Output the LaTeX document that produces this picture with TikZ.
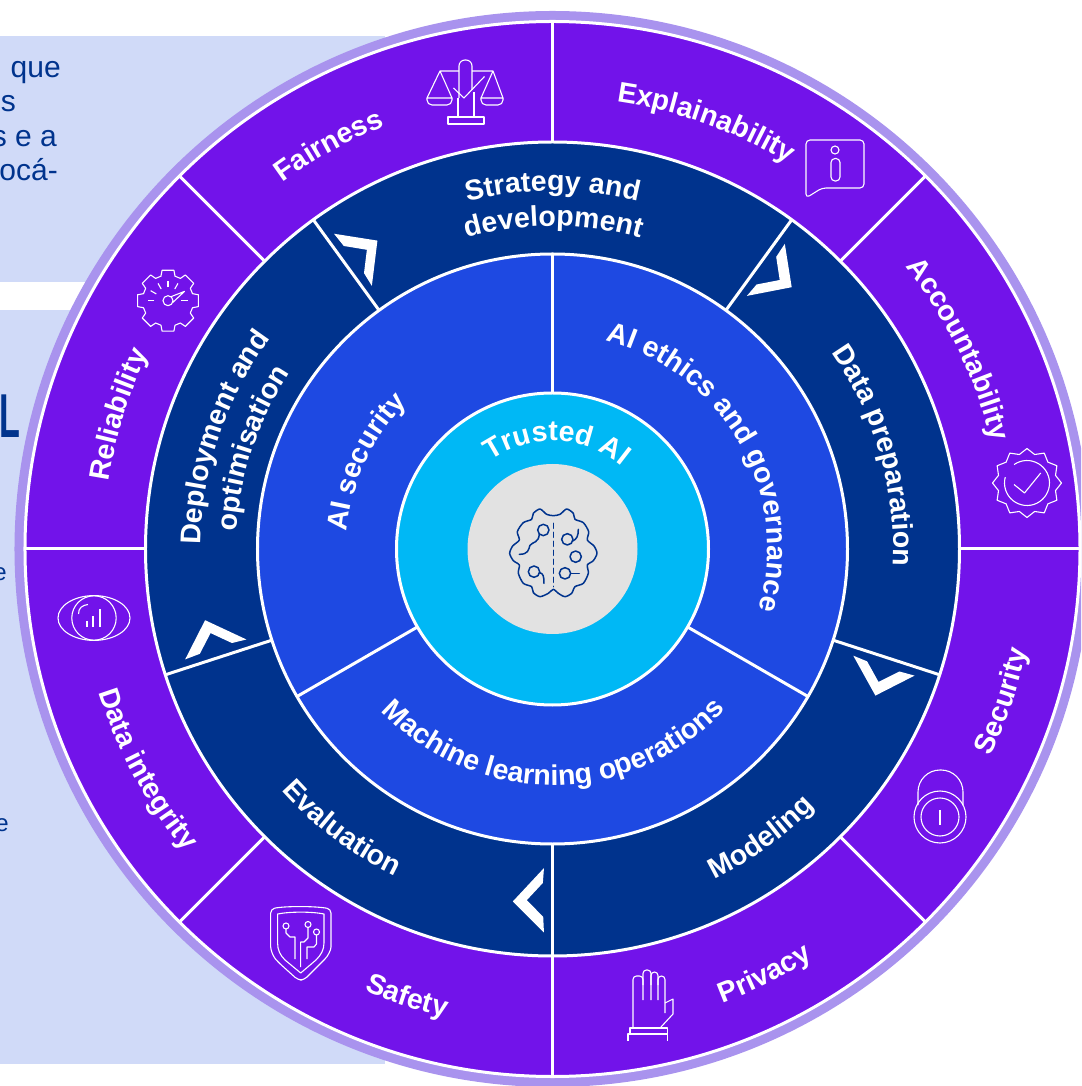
\documentclass[tikz,border=0pt]{standalone}
\usepackage{fontspec}
\setmainfont{Liberation Sans}
\usetikzlibrary{decorations.text}
\definecolor{panelBlue}{HTML}{D0DAF8}
\definecolor{ringLilac}{HTML}{A993EE}
\definecolor{ringPurple}{HTML}{7213EA}
\definecolor{ringNavy}{HTML}{00338D}
\definecolor{ringBlue}{HTML}{1E49E2}
\definecolor{ringCyan}{HTML}{00B8F5}
\definecolor{coreGrey}{HTML}{E2E2E2}
\newcommand{\labelfont}{\fontsize{28.5}{28.5}\selectfont\bfseries\color{white}}
% label on a circle: angle, radius, half span, text
\newcommand{\frownlabel}[4]{\path[decorate,decoration={text along path,text align=center,text={|\labelfont|#4}}] (#1+#3:#2) arc[start angle=#1+#3,end angle=#1-#3,radius=#2];}
\newcommand{\smilelabel}[4]{\path[decorate,decoration={text along path,text align=center,text={|\labelfont|#4}}] (#1-#3:#2) arc[start angle=#1-#3,end angle=#1+#3,radius=#2];}
\tikzset{
	pix/.style={shift={(-552.5,549)},y=-1pt},
	disc/.style={draw=white,line width=3pt},
	divider/.style={white,line width=3pt},
	iconline/.style={white,line width=1.1pt,line join=round},
	brainline/.style={ringNavy,line width=1.5pt,line join=round,line cap=round},
	paneltext/.style={text=ringNavy,font=\fontsize{30}{30}\selectfont,anchor=base east,inner sep=0pt}
}
\begin{document}
\begin{tikzpicture}[x=1pt,y=1pt]
	\useasboundingbox (-552.5,-537) rectangle (528.5,549);
	\clip (-552.5,-537) rectangle (528.5,549);
	
	%Panels behind the wheel
	\begin{scope}[pix]
		\fill[panelBlue] (0,36) rectangle (385,282);
		\fill[panelBlue] (0,310) rectangle (385,1064);
		\node[paneltext] (lineQue) at (61,78) {que};
		\node[paneltext] (lineS) at (16,112) {s};
		\node[paneltext] (lineEa) at (57,147) {s e a};
		\node[paneltext] (lineOca) at (58,181) {ocá-};
		\node[text=ringNavy,font=\fontsize{62}{62}\selectfont\bfseries,anchor=base west,inner sep=0pt,xscale=.55,transform shape] (bigL) at (-1,438) {L};
		\node[paneltext,font=\fontsize{24}{24}\selectfont] (lineE) at (7,581) {e};
		\node[paneltext,font=\fontsize{24}{24}\selectfont] (lineF) at (9,831) {e};
	\end{scope}
	
	%Rings
	\fill[ringLilac] (0,0) circle (538);
	\draw[disc,fill=ringPurple] (0,0) circle (527.5);
	\foreach \a in {0,45,...,315}
		\draw[divider] (\a:407) -- (\a:527.5);
	\draw[disc,fill=ringNavy] (0,0) circle (407);
	\foreach \a in {54,126,198,270,342}
		\draw[divider] (\a:295) -- (\a:407);
	\draw[disc,fill=ringBlue] (0,0) circle (295);
	\foreach \a in {90,210,330}
		\draw[divider] (\a:156) -- (\a:295);
	\draw[disc,fill=ringCyan] (0,0) circle (156);
	\fill[coreGrey] (0,0) circle (85);
	
	%Chevrons
	\foreach \a in {0,72,144,216,288}
		\fill[white,rotate=\a] (232.3,305.2) -- (239.2,261.8) -- (194.4,253.1) -- (204.1,264.5) -- (227.2,269) -- (223.7,292.1) -- cycle;
	
	%Outer ring labels
	\frownlabel{119}{455}{30}{Fairness}
	\frownlabel{70.2}{452}{30}{Explainability}
	\frownlabel{26.2}{452}{30}{Accountability}
	\frownlabel{162.8}{449}{30}{Reliability}
	\smilelabel{-18.7}{485}{25}{Security}
	\smilelabel{-63.5}{485}{25}{Privacy}
	\smilelabel{-108}{480}{25}{Safety}
	\smilelabel{-151.5}{476}{25}{Data integrity}
	
	%Middle ring labels
	\frownlabel{90}{358}{35}{Strategy and}
	\frownlabel{89.8}{323}{35}{development}
	\frownlabel{161.3}{352}{35}{Deployment and}
	\frownlabel{161.5}{316}{35}{optimisation}
	\frownlabel{16.2}{341}{35}{Data preparation}
	\smilelabel{-54.2}{368}{30}{Modeling}
	\smilelabel{-127}{363}{30}{Evaluation}
	
	%Inner ring labels
	\frownlabel{155}{206}{45}{AI security}
	\frownlabel{29.7}{215}{70}{AI ethics and governance}
	\smilelabel{-89.7}{236}{70}{Machine learning operations}
	\frownlabel{87.6}{108}{70}{Trusted AI}
	
	%Icons
	\begin{scope}[pix]
		%Scales
		\begin{scope}[iconline]
			\draw[rounded corners=6pt] (459,98) -- (459,60) -- (472,60) -- (472,90);
			\draw (459,71) -- (440,71) -- (427,98) -- (452,98) -- (440,71);
			\draw (472,71) -- (493,71) -- (481,98) -- (503,98) -- (493,71);
			\draw[rounded corners=5pt] (427,98) -- (427,105) -- (452,105) -- (452,98);
			\draw[rounded corners=5pt] (481,98) -- (481,105) -- (503,105) -- (503,98);
			\draw (453.5,88) -- (464,98) -- (484.5,76.5);
			\draw (458,98) -- (458,117) (474,92) -- (474,117);
			\draw (448,117) rectangle (484,124);
		\end{scope}
		
		%Speech bubble
		\begin{scope}[iconline]
			\draw[rounded corners=4pt] (806,198) -- (806,140) -- (864,140) -- (864,188) -- (822,188) -- cycle;
			\draw (835,150) circle (4);
			\draw[rounded corners=4pt] (831,158.5) rectangle (840,181);
		\end{scope}
		
		%Seal
		\begin{scope}[iconline,shift={(1027,483)}]
			\draw (0:34.5) \foreach \i in {1,...,23} { -- ({\i*15}:{ifthenelse(mod(\i,2)==0,34.5,29.5)}) } -- cycle;
			\draw plot[smooth,domain=235:555,samples=40] ({22.5*cos(\x)},{22.5*sin(\x)});
			\draw (-13,1.5) -- (-2.5,10) -- (13.7,-10);
		\end{scope}
		
		%Gear
		\begin{scope}[iconline,shift={(168,300.7)}]
			\draw (-16:25.5) \foreach \t in {0,45,...,315} { -- ({\t-16}:25.5) -- ({\t-11}:31) -- ({\t+11}:31) -- ({\t+16}:25.5) } -- cycle;
			\foreach \a in {180,210,240,270,300,360}
				\draw (\a:13.5) -- (\a:20);
			\draw (0,0) circle (5);
			\draw (3,-4) -- (16.5,-9.3) -- (4.5,2);
		\end{scope}
		
		%Eye and chart
		\begin{scope}[iconline]
			\draw (94,618) ellipse (36 and 22.4);
			\draw (94,618) circle (22.2);
			\draw (87,621) -- (87,627) (93,616) -- (93,627) (100,609) -- (100,627);
			\draw (78.6,614) .. controls (78,608) and (83,605) .. (88,604.5);
		\end{scope}
		
		%Shield
		\begin{scope}[iconline]
			\draw[rounded corners=4pt] (270.7,909) .. controls (285,906) and (315,906) .. (331,909) -- (331,943) .. controls (331,950) and (328,956) .. (322,962) -- (304,980) -- (298,980) -- (278,962) .. controls (273,956) and (270.7,950) .. (270.7,943) -- cycle;
			\draw (277.6,914) .. controls (290,911.5) and (312,911.5) .. (324,914) -- (324,943) .. controls (324,950) and (321,955) .. (316,960) -- (300.7,973) -- (285,960) .. controls (280,955) and (277.6,950) .. (277.6,943) -- cycle;
			\draw (286,926) circle (3) (286,929) -- (286,933) -- (290,937) -- (295,937) -- (295,959);
			\draw (308,924.5) circle (3) (308,927.5) -- (308,938) -- (304,942) -- (300.7,942) -- (300.7,967);
			\draw (316.5,932) circle (3) (316.5,935) -- (316.5,944) -- (314,947) -- (307,947) -- (307,959);
		\end{scope}
		
		%Hand
		\begin{scope}[iconline]
			\draw[rounded corners=3.5pt] (633,1027) -- (633,976) -- (643,976) -- (643,1000);
			\draw[rounded corners=3.5pt] (643,985) -- (643,970) -- (651,970) -- (651,1000);
			\draw[rounded corners=3.5pt] (651,985) -- (651,972) -- (658,972) -- (658,1000);
			\draw[rounded corners=3.5pt] (658,985) -- (658,976) -- (665,976) -- (665,1013);
			\draw (665,1003) -- (673,999) -- (673,1014) -- (661,1027);
			\draw (630,1034) -- (630,1028) -- (667.5,1028) -- (667.5,1041);
			\draw (628,1041) -- (628,1034) -- (667.5,1034);
		\end{scope}
		
		%Padlock
		\begin{scope}[iconline]
			\draw[rounded corners=22pt] (918,805) -- (918,770) -- (963,770) -- (963,805);
			\draw (940,817) circle (26);
			\draw (940,817) circle (19);
			\draw (940,810) -- (940,824.5);
		\end{scope}
		
		%Brain
		\begin{scope}[brainline,shift={(460,460)},scale=1/3]
			\draw plot[smooth cycle,tension=.45] coordinates {(280,167) (300,163) (320,147) (340,160) (345,178) (370,188) (386,215) (382,240) (402,258) (411,280) (400,302) (382,315) (385,340) (370,370) (345,380) (335,400) (315,410) (295,400) (280,388) (265,400) (240,410) (220,398) (215,380) (190,370) (175,340) (178,315) (160,302) (149,280) (158,258) (178,240) (172,215) (190,188) (215,178) (220,160) (240,147) (260,163)};
			\draw (250,210) circle (17);
			\draw (322,238) circle (17);
			\draw (347,290) circle (17);
			\draw (222,335) circle (17);
			\draw (315,340) circle (17);
			\draw (332,340) -- (358,340);
			\draw (239,338) .. controls (250,340) and (252,350) .. (252,370);
			\draw (338,243) .. controls (350,238) and (355,228) .. (355,208);
			\draw (238,222) .. controls (236,250) and (218,245) .. (210,256) .. controls (205,270) and (205,283) .. (178,283);
			\draw[dash pattern=on 5pt off 4pt] (280,190) -- (280,380);
		\end{scope}
	\end{scope}
\end{tikzpicture}
\end{document}
